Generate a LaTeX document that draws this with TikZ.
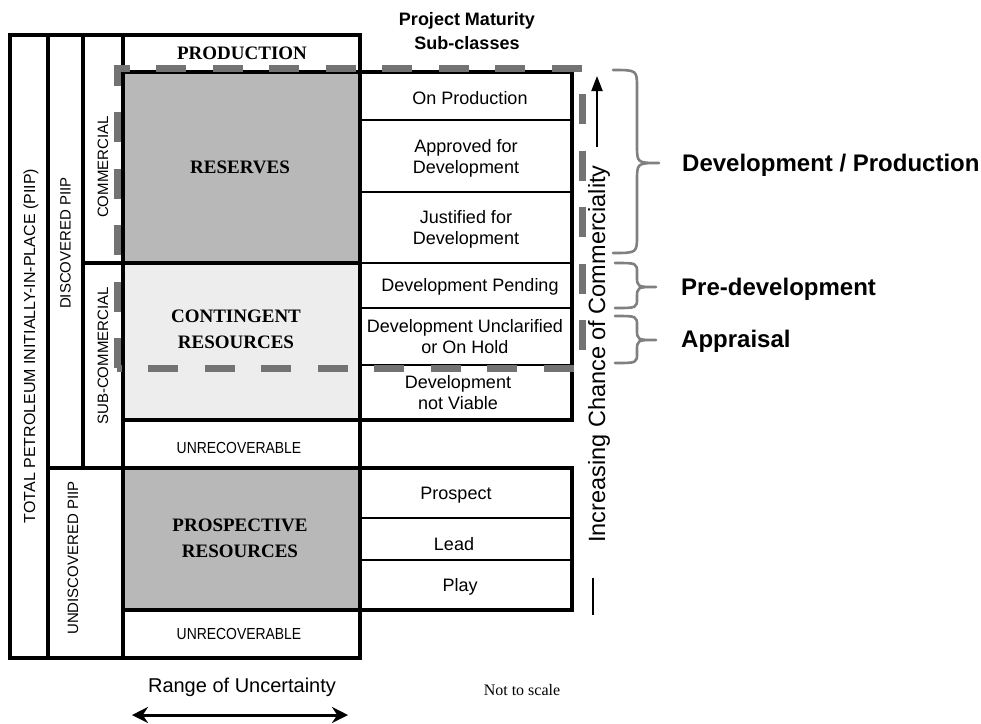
\documentclass[tikz,border=0pt]{standalone}
\usepackage{fontspec}
\setmainfont{Liberation Serif}
\setsansfont{Liberation Sans}
\usetikzlibrary{arrows.meta}
\newcommand\fsz[2]{\fontsize{#1}{#2}\selectfont}

\tikzset{
  frame/.style={line width=3.5pt},
  sepline/.style={line width=1.5pt},
  tintdense/.style={fill=black!28},
  tintlight/.style={fill=black!7},
  dashrule/.style={draw=black!55, line width=7pt, dash pattern=on 30pt off 26.5pt},
  bracepath/.style={draw=black!50, line width=2.6pt, line cap=round, line join=round},
  classname/.style={font=\rmfamily\bfseries\fsz{19}{26}, align=center, inner sep=0pt},
  subclass/.style={font=\sffamily\fsz{18}{21}, align=center, inner sep=0pt},
  sidename/.style={font=\sffamily\fsz{15}{18}, rotate=90, inner sep=0pt},
  unrec/.style={font=\sffamily\fsz{16}{19}, xscale=0.87, inner sep=0pt},
  phase/.style={font=\sffamily\bfseries\fsz{24}{28}, anchor=west, inner sep=0pt},
  heading/.style={font=\sffamily\bfseries\fsz{18}{24}, align=center, inner sep=0pt},
  axisname/.style={font=\sffamily\fsz{20}{24}, inner sep=0pt},
  note/.style={font=\rmfamily\fsz{16}{19}, inner sep=0pt},
  axisarrow/.style={line width=3pt, {Stealth[length=16pt,width=16pt]}-{Stealth[length=16pt,width=16pt]}},
  uparrow/.style={line width=2pt, -{Triangle[length=15pt,width=11pt]}},
}

\begin{document}
\begin{tikzpicture}[x=1pt,y=-1pt]
\useasboundingbox (0,0) rectangle (981,723);

% shaded resource areas
\fill[tintdense] (123,72) rectangle (360,263);
\fill[tintlight] (123,263) rectangle (360,420);
\fill[tintdense] (123,468) rectangle (360,610);

% thin rules between the project maturity sub-classes
\draw[sepline] (360,120) -- (572,120);
\draw[sepline] (360,192) -- (572,192);
\draw[line width=2pt] (360,262.5) -- (572,262.5);
\draw[sepline] (360,308) -- (572,308);
\draw[sepline] (360,365) -- (572,365);
\draw[sepline] (360,518) -- (572,518);
\draw[sepline] (360,560) -- (572,560);

% main frame and class boundaries
\draw[frame] (10,35) rectangle (360,658);
\draw[frame] (48,35) -- (48,658);
\draw[frame] (83,35) -- (83,468);
\draw[frame] (123,35) -- (123,658);
\draw[frame] (123,72) -- (572,72) -- (572,420) -- (123,420);
\draw[frame] (83,263) -- (360,263);
\draw[frame] (48,468) -- (572,468) -- (572,610) -- (123,610);

% commercial / sub-commercial split marked by the grey dashed outline
\draw[dashrule] (117,368) -- (117,68) -- (582,68) -- (582,368) -- cycle;

% vertical category labels
\node[sidename, font=\sffamily\fsz{16}{19}] (tpiip) at (31,346) {TOTAL PETROLEUM INITIALLY-IN-PLACE (PIIP)};
\node[sidename] (disc) at (65.5,243) {DISCOVERED PIIP};
\node[sidename] (comm) at (103,167) {COMMERCIAL};
\node[sidename] (subcomm) at (103,356) {SUB-COMMERCIAL};
\node[sidename] (undisc) at (73,558) {UNDISCOVERED PIIP};

% resource classes
\node[classname] (prod) at (242,53) {PRODUCTION};
\node[classname] (res) at (240,167) {RESERVES};
\node[classname] (cont) at (236,329) {CONTINGENT\\RESOURCES};
\node[unrec] (unrecA) at (239,448) {UNRECOVERABLE};
\node[classname] (prosp) at (240,538) {PROSPECTIVE\\RESOURCES};
\node[unrec] (unrecB) at (239,634) {UNRECOVERABLE};

% project maturity sub-classes
\node[heading] (head) at (467,31) {Project Maturity\\Sub-classes};
\node[subclass] (onprod) at (470,98) {On Production};
\node[subclass] (approved) at (466,158) {Approved for\\Development};
\node[subclass] (justified) at (466,229) {Justified for\\Development};
\node[subclass] (pending) at (470,287) {Development Pending};
\node[subclass] (unclar) at (465,337) {Development Unclarified\\or On Hold};
\node[subclass] (notviable) at (458,393) {Development\\not Viable};
\node[subclass] (prospect) at (456,495) {Prospect};
\node[subclass] (lead) at (454,544) {Lead};
\node[subclass] (play) at (460,587) {Play};

% chance of commerciality axis
\node[font=\sffamily\fsz{23.5}{28}, rotate=90, inner sep=0pt] (chance) at (599,354) {Increasing Chance of Commerciality};
\coordinate (upfoot) at (597,147);
\coordinate (uptip) at (597,76);
\draw[uparrow] (upfoot) -- (uptip);
\coordinate (tickA) at (593,578);
\coordinate (tickB) at (593,615);
\draw[line width=2pt] (tickA) -- (tickB);

% project phase braces
\draw[bracepath] (613,70) .. controls (637,70) .. (637,88) -- (637,145)
  .. controls (637,163) .. (659,163) .. controls (637,163) .. (637,181)
  -- (637,235) .. controls (637,253) .. (613,253);
\draw[bracepath] (615,263) .. controls (637,263) .. (637,273) -- (637,276)
  .. controls (637,287) .. (656,287) .. controls (637,287) .. (637,298)
  -- (637,298) .. controls (637,308) .. (615,308);
\draw[bracepath] (615,316) .. controls (637,316) .. (637,326) -- (637,329)
  .. controls (637,340) .. (656,340) .. controls (637,340) .. (637,351)
  -- (637,353) .. controls (637,363) .. (615,363);
\node[phase] (devprod) at (682,165) {Development / Production};
\node[phase] (predev) at (681,289) {Pre-development};
\node[phase] (appraisal) at (681,341) {Appraisal};

% range of uncertainty axis
\node[axisname] (range) at (242,687) {Range of Uncertainty};
\coordinate (rangeL) at (132,715);
\coordinate (rangeR) at (348,715);
\draw[axisarrow] (rangeL) -- (rangeR);
\node[note] (scale) at (522,690) {Not to scale};
\end{tikzpicture}
\end{document}
